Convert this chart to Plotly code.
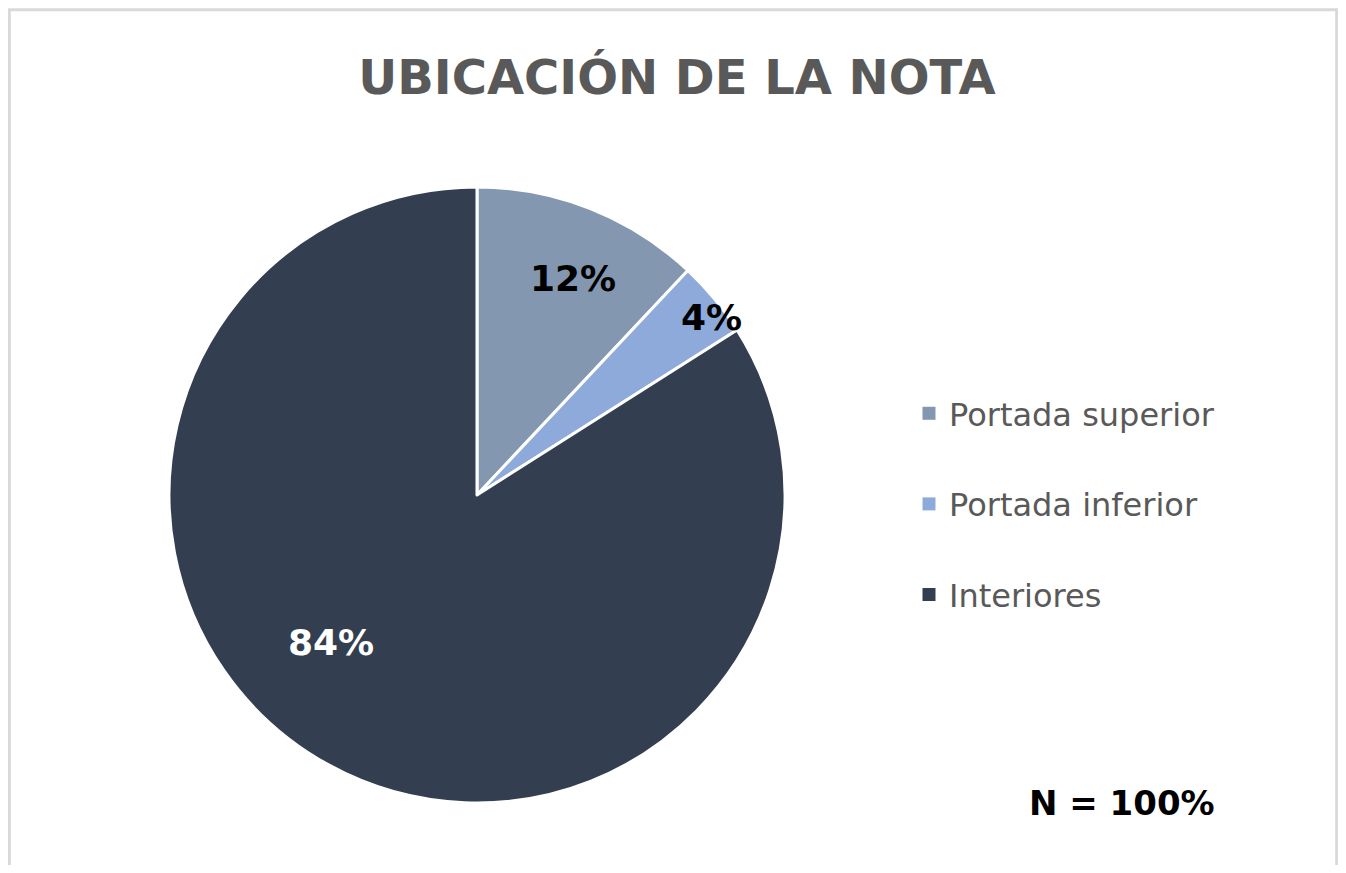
import math
import plotly.graph_objects as go

# data
labels = ['Portada superior', 'Portada inferior', 'Interiores']
values = [12, 4, 84]
colors = ['#8497b0', '#8eaadb', '#333f50']
label_colors = ['black', 'black', 'white']
title_text = 'UBICACIÓN DE LA NOTA'
note_text = 'N = 100%'

# the page body keeps an 8px margin, so the figure is 16px smaller than the
# window and every screen position is shifted by 8px
W, H = 1330, 857
OFF = 8


def px(x):
    return (x - OFF) / W


def py(y):
    return 1 - (y - OFF) / H


# pie centre and radius in screen pixels
cx, cy, R = 477, 495, 308

fig = go.Figure()
fig.add_trace(go.Pie(
    labels=labels, values=values, sort=False, direction='clockwise',
    rotation=0, marker=dict(colors=colors, line=dict(color='white', width=3)),
    textinfo='none', hoverinfo='label+percent', showlegend=False,
    domain=dict(x=[px(cx - R), px(cx + R)], y=[py(cy + R), py(cy - R)]),
))

# legend entries, drawn with empty scatter traces so the gap can be set
for i, (lab, col) in enumerate(zip(labels, colors)):
    fig.add_trace(go.Scatter(
        x=[None], y=[None], mode='markers', name=lab, legendgroup=str(i),
        marker=dict(symbol='square', size=13, color=col),
    ))

# percentage labels at each slice's mid angle
# (radial fraction, angle tweak in degrees) per slice
label_pos = [(0.77, 2.3), (0.955, 2.6), (0.675, 16)]
total = sum(values)
start = 0
for v, lc, (rf, da) in zip(values, label_colors, label_pos):
    mid = math.radians((start + v / 2) / total * 360 + da)
    start += v
    lx = cx + rf * R * math.sin(mid)
    ly = cy - rf * R * math.cos(mid)
    fig.add_annotation(
        x=px(lx), y=py(ly), xref='paper', yref='paper', showarrow=False,
        xanchor='center', yanchor='middle',
        text='<b>%d%%</b>' % round(v / total * 100),
        font=dict(size=36, color=lc, family='DejaVu Sans'),
    )

fig.add_annotation(
    x=px(1122), y=py(803), xref='paper', yref='paper', showarrow=False,
    xanchor='center', yanchor='middle',
    text='<b>%s</b>' % note_text, font=dict(size=34, color='black', family='DejaVu Sans'),
)

fig.add_shape(type='rect', xref='paper', yref='paper',
              x0=0.001, x1=0.999, y0=-0.05, y1=0.998,
              line=dict(color='#d9d9d9', width=3))

fig.update_layout(
    width=W, height=H,
    margin=dict(l=0, r=0, t=0, b=0),
    paper_bgcolor='white', plot_bgcolor='white',
    title=dict(text='<b>%s</b>' % title_text, x=px(677), xanchor='center',
               y=py(77), yanchor='middle',
               font=dict(size=48, color='#595959', family='DejaVu Sans')),
    xaxis=dict(visible=False), yaxis=dict(visible=False),
    legend=dict(x=px(909), y=py(386), xanchor='left', yanchor='top',
                font=dict(size=32, color='#595959', family='DejaVu Sans'),
                tracegroupgap=46, itemwidth=30, bgcolor='rgba(0,0,0,0)'),
)

fig.write_html('out.html')
